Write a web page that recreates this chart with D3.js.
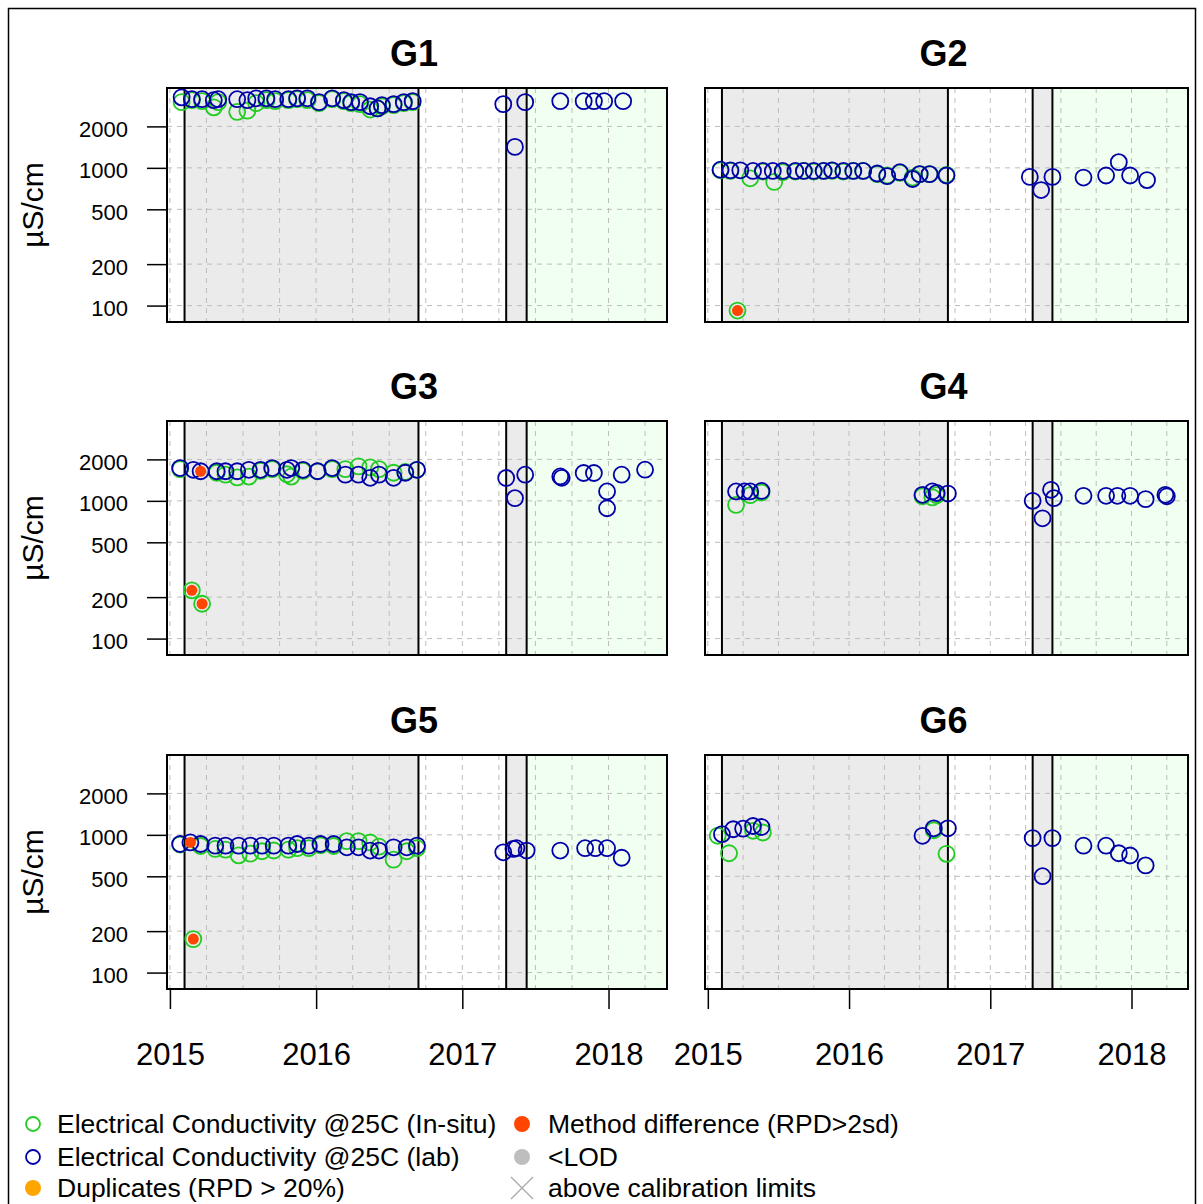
<!DOCTYPE html>
<html><head><meta charset="utf-8">
<script src="https://cdn.jsdelivr.net/npm/d3@7"></script>
<style>
body{margin:0;background:#fff}
svg{display:block}
text{font-family:"Liberation Sans",Arial,Helvetica,sans-serif;fill:#000}
</style>
</head><body>
<svg id="chart" width="1203" height="1204"></svg>
<script>
// ---------- data (decimal years, µS/cm) ----------
const sites = ["G1","G2","G3","G4","G5","G6"];
const yTicks = [100,200,500,1000,2000];
const yearTicks = [2015,2016,2017,2018];
const periodBreaks = [2015.10, 2016.70, 2017.30, 2017.44];
const yLabel = "µS/cm";
const legendLabels = ["Electrical Conductivity @25C (In-situ)","Electrical Conductivity @25C (lab)","Duplicates (RPD > 20%)","Method difference (RPD>2sd)","<LOD","above calibration limits"];

const g1LabDates = [2015.08,2015.15,2015.22,2015.30,2015.33,2015.46,2015.53,2015.59,2015.66,2015.72,2015.81,2015.87,2015.94,2016.02,2016.11,2016.19,2016.24,2016.30,2016.37,2016.42,2016.45,2016.53,2016.60,2016.66,2017.28,2017.36,2017.43,2017.67,2017.83,2017.90,2017.97,2018.10];
const g1LabValues = [3250,3150,3150,3100,3150,3150,3100,3200,3200,3150,3150,3200,3200,3000,3200,3100,3000,3000,2800,2700,2850,2900,3000,3050,2900,1420,3000,3050,3050,3050,3050,3050];
const g1InsituDates = [2015.08,2015.15,2015.22,2015.30,2015.33,2015.46,2015.53,2015.59,2015.66,2015.72,2015.81,2015.87,2015.94,2016.02,2016.11,2016.19,2016.24,2016.30,2016.37,2016.42,2016.45,2016.53,2016.60,2016.66];
const g1InsituValues = [3000,3100,3050,2750,3000,2550,2600,2950,3100,3050,3100,3150,3100,2950,3150,3050,2950,2900,2650,2700,2800,2850,2950,3000];
const g1MethodDates = [];
const g1MethodValues = [];

const g2LabDates = [2015.09,2015.16,2015.23,2015.32,2015.39,2015.46,2015.53,2015.62,2015.68,2015.75,2015.82,2015.88,2015.96,2016.03,2016.10,2016.20,2016.27,2016.36,2016.45,2016.50,2016.57,2016.69,2017.28,2017.36,2017.44,2017.66,2017.82,2017.91,2017.99,2018.11];
const g2LabValues = [970,960,960,950,950,950,950,950,950,950,950,960,950,950,950,910,870,930,830,900,900,880,860,690,860,850,880,1100,880,815];
const g2InsituDates = [2015.09,2015.16,2015.21,2015.30,2015.39,2015.47,2015.53,2015.62,2015.68,2015.75,2015.82,2015.88,2015.96,2016.03,2016.10,2016.20,2016.27,2016.36,2016.45,2016.50,2016.57,2016.69];
const g2InsituValues = [960,950,92,840,940,790,930,940,950,940,950,950,940,950,950,900,880,920,850,900,900,890];
const g2MethodDates = [2015.21];
const g2MethodValues = [92];

const g3LabDates = [2015.07,2015.16,2015.21,2015.32,2015.38,2015.46,2015.54,2015.62,2015.70,2015.80,2015.83,2015.91,2016.01,2016.11,2016.20,2016.29,2016.37,2016.43,2016.53,2016.61,2016.69,2017.30,2017.36,2017.43,2017.67,2017.68,2017.83,2017.90,2017.99,2017.99,2018.09,2018.25];
const g3LabValues = [1730,1680,1640,1640,1640,1640,1680,1680,1730,1680,1730,1680,1640,1730,1550,1550,1470,1550,1470,1600,1680,1465,1046,1548,1504,1470,1593,1593,1170,884,1548,1684];
const g3InsituDates = [2015.07,2015.15,2015.22,2015.32,2015.38,2015.46,2015.54,2015.62,2015.70,2015.80,2015.83,2015.91,2016.01,2016.11,2016.20,2016.29,2016.37,2016.43,2016.53,2016.61,2016.69];
const g3InsituValues = [1700,224,179,1600,1550,1480,1500,1650,1700,1560,1500,1650,1640,1700,1700,1780,1750,1700,1600,1620,1680];
const g3MethodDates = [2015.21,2015.15,2015.22];
const g3MethodValues = [1640,224,179];

const g4LabDates = [2015.20,2015.26,2015.30,2015.38,2016.52,2016.59,2016.62,2016.70,2017.30,2017.37,2017.43,2017.45,2017.66,2017.82,2017.90,2017.99,2018.10,2018.24,2018.25];
const g4LabValues = [1170,1170,1170,1180,1106,1170,1140,1130,1000,747,1203,1046,1088,1088,1088,1088,1029,1106,1080];
const g4InsituDates = [2015.20,2015.30,2015.38,2016.52,2016.59,2016.62];
const g4InsituValues = [935,1100,1150,1080,1060,1100];
const g4MethodDates = [];
const g4MethodValues = [];

const g5LabDates = [2015.07,2015.14,2015.21,2015.31,2015.38,2015.47,2015.55,2015.63,2015.71,2015.81,2015.87,2015.95,2016.03,2016.12,2016.21,2016.29,2016.37,2016.43,2016.53,2016.62,2016.69,2017.28,2017.35,2017.37,2017.44,2017.67,2017.84,2017.91,2017.99,2018.09];
const g5LabValues = [858,881,858,835,835,835,835,835,835,835,858,835,858,858,812,812,769,769,812,812,835,747,790,800,769,769,800,800,800,682];
const g5InsituDates = [2015.07,2015.16,2015.21,2015.31,2015.38,2015.47,2015.55,2015.63,2015.71,2015.81,2015.87,2015.95,2016.03,2016.12,2016.21,2016.29,2016.37,2016.43,2016.53,2016.62,2016.69];
const g5InsituValues = [850,175,830,790,780,710,730,760,770,780,800,800,840,830,900,900,880,820,660,760,800];
const g5MethodDates = [2015.14,2015.16];
const g5MethodValues = [881,175];

const g6LabDates = [2015.10,2015.18,2015.25,2015.32,2015.38,2016.52,2016.60,2016.70,2017.30,2017.37,2017.44,2017.66,2017.82,2017.91,2017.99,2018.10];
const g6LabValues = [1011,1098,1110,1160,1140,984,1116,1116,947,501,947,834,834,735,708,600];
const g6InsituDates = [2015.07,2015.15,2015.32,2015.39,2016.60,2016.69];
const g6InsituValues = [985,735,1070,1040,1080,728];
const g6MethodDates = [];
const g6MethodValues = [];

// ---------- assemble ----------
const zip = (d, v) => d.map((t, i) => ({t, v: v[i]}));
const siteData = {
  G1: {lab: zip(g1LabDates,g1LabValues), insitu: zip(g1InsituDates,g1InsituValues), method: zip(g1MethodDates,g1MethodValues)},
  G2: {lab: zip(g2LabDates,g2LabValues), insitu: zip(g2InsituDates,g2InsituValues), method: zip(g2MethodDates,g2MethodValues)},
  G3: {lab: zip(g3LabDates,g3LabValues), insitu: zip(g3InsituDates,g3InsituValues), method: zip(g3MethodDates,g3MethodValues)},
  G4: {lab: zip(g4LabDates,g4LabValues), insitu: zip(g4InsituDates,g4InsituValues), method: zip(g4MethodDates,g4MethodValues)},
  G5: {lab: zip(g5LabDates,g5LabValues), insitu: zip(g5InsituDates,g5InsituValues), method: zip(g5MethodDates,g5MethodValues)},
  G6: {lab: zip(g6LabDates,g6LabValues), insitu: zip(g6InsituDates,g6InsituValues), method: zip(g6MethodDates,g6MethodValues)}
};

// ---------- styling / layout ----------
const C = {insitu:"#22cc22", lab:"#0000a8", method:"#ff4500", dup:"#ffa500", lod:"#bebebe", cal:"#a8a8a8",
           gray:"#ebebeb", green:"#f0fff0", grid:"#bdbdbd"};
const cols = [{x0:167, x1:667}, {x0:705, x1:1188}];
const rows = [88, 421, 755];
const H = 234;
const xDomain = [2014.98, 2018.40];
const yDomain = [76, 3800];
const R = 8;

const svg = d3.select("#chart");
svg.append("rect").attr("width",1203).attr("height",1204).attr("fill","#fff");
svg.append("rect").attr("x",8.5).attr("y",8.5).attr("width",1187).attr("height",1210)
  .attr("fill","none").attr("stroke","#000").attr("stroke-width",1.5);

sites.forEach((site, i) => {
  const col = i % 2, row = Math.floor(i / 2);
  const {x0, x1} = cols[col];
  const top = rows[row], bottom = top + H;
  const x = d3.scaleLinear().domain(xDomain).range([x0, x1]);
  const y = d3.scaleLog().domain(yDomain).range([bottom, top]);
  const g = svg.append("g");
  const clipId = "clip" + site;
  g.append("clipPath").attr("id", clipId).append("rect")
    .attr("x", x0).attr("y", top).attr("width", x1 - x0).attr("height", H);
  const inner = g.append("g").attr("clip-path", `url(#${clipId})`);

  // period shading
  const edges = [xDomain[0], ...periodBreaks, xDomain[1]];
  const fills = ["#fff", C.gray, "#fff", C.gray, C.green];
  edges.slice(0, -1).forEach((e, k) => {
    inner.append("rect").attr("x", x(e)).attr("y", top)
      .attr("width", x(edges[k+1]) - x(e)).attr("height", H).attr("fill", fills[k]);
  });

  // grid
  const quarters = d3.range(2015, 2018.5, 0.25).filter(q => q > xDomain[0] && q < xDomain[1]);
  inner.selectAll(".vg").data(quarters).join("line")
    .attr("x1", d => x(d)).attr("x2", d => x(d)).attr("y1", top).attr("y2", bottom)
    .attr("stroke", C.grid).attr("stroke-width", 1).attr("stroke-dasharray", "5,5");
  inner.selectAll(".hg").data(yTicks).join("line")
    .attr("x1", x0).attr("x2", x1).attr("y1", d => y(d)).attr("y2", d => y(d))
    .attr("stroke", C.grid).attr("stroke-width", 1).attr("stroke-dasharray", "5,5");

  // period break lines
  inner.selectAll(".pb").data(periodBreaks).join("line")
    .attr("x1", d => x(d)).attr("x2", d => x(d)).attr("y1", top).attr("y2", bottom)
    .attr("stroke", "#000").attr("stroke-width", 2);

  const dat = siteData[site];
  inner.selectAll(".ins").data(dat.insitu).join("circle")
    .attr("cx", d => x(d.t)).attr("cy", d => y(d.v)).attr("r", R)
    .attr("fill", "none").attr("stroke", C.insitu).attr("stroke-width", 1.8);
  inner.selectAll(".lab").data(dat.lab).join("circle")
    .attr("cx", d => x(d.t)).attr("cy", d => y(d.v)).attr("r", R)
    .attr("fill", "none").attr("stroke", C.lab).attr("stroke-width", 1.8);
  inner.selectAll(".md").data(dat.method).join("circle")
    .attr("cx", d => x(d.t)).attr("cy", d => y(d.v)).attr("r", 5.5)
    .attr("fill", C.method);

  // box
  g.append("rect").attr("x", x0).attr("y", top).attr("width", x1 - x0).attr("height", H)
    .attr("fill", "none").attr("stroke", "#000").attr("stroke-width", 2);

  // title
  g.append("text").attr("x", (x0 + x1) / 2 - 3).attr("y", top - 22)
    .attr("text-anchor", "middle").attr("font-weight", "bold").attr("font-size", 36).text(site);

  // y axis
  if (col === 0) {
    const ax = g.append("g").attr("transform", `translate(${x0},0)`)
      .call(d3.axisLeft(y).tickValues(yTicks).tickSize(20).tickPadding(19).tickFormat(d3.format("d")));
    ax.select(".domain").remove();
    ax.selectAll(".tick line").attr("stroke", "#000").attr("stroke-width", 1.5);
    ax.selectAll(".tick text").attr("font-size", 22).attr("font-family", "Liberation Sans, Arial, sans-serif")
      .attr("fill", "#000").attr("dy", "0.45em");
    g.append("text").attr("transform", `translate(43,${top + H / 2}) rotate(-90)`)
      .attr("text-anchor", "middle").attr("font-size", 30).text(yLabel);
  }
  // x axis
  if (row === 2) {
    const ax = g.append("g").attr("transform", `translate(0,${bottom})`)
      .call(d3.axisBottom(x).tickValues(yearTicks).tickSize(20).tickPadding(34).tickFormat(d3.format("d")));
    ax.select(".domain").remove();
    ax.selectAll(".tick line").attr("stroke", "#000").attr("stroke-width", 1.5);
    ax.selectAll(".tick text").attr("font-size", 31).attr("font-family", "Liberation Sans, Arial, sans-serif")
      .attr("fill", "#000");
  }
});

// ---------- legend ----------
const lg = svg.append("g");
const legendRows = [1124, 1157, 1188];
const legendCols = [{ix:33, tx:57}, {ix:522, tx:548}];
legendLabels.forEach((lab, k) => {
  const c = legendCols[Math.floor(k / 3)], yy = legendRows[k % 3];
  if (k === 0 || k === 1) {
    lg.append("circle").attr("cx", c.ix).attr("cy", yy).attr("r", 7)
      .attr("fill", "none").attr("stroke", k === 0 ? C.insitu : C.lab).attr("stroke-width", 1.8);
  } else if (k === 5) {
    lg.append("path").attr("d", `M${c.ix-11},${yy-11}L${c.ix+11},${yy+11}M${c.ix-11},${yy+11}L${c.ix+11},${yy-11}`)
      .attr("stroke", C.cal).attr("stroke-width", 1.3).attr("fill", "none");
  } else {
    const fill = k === 2 ? C.dup : k === 3 ? C.method : C.lod;
    lg.append("circle").attr("cx", c.ix).attr("cy", yy).attr("r", 8).attr("fill", fill);
  }
  lg.append("text").attr("x", c.tx).attr("y", yy + 9).attr("font-size", 26.5).text(lab);
});
</script>
</body></html>
